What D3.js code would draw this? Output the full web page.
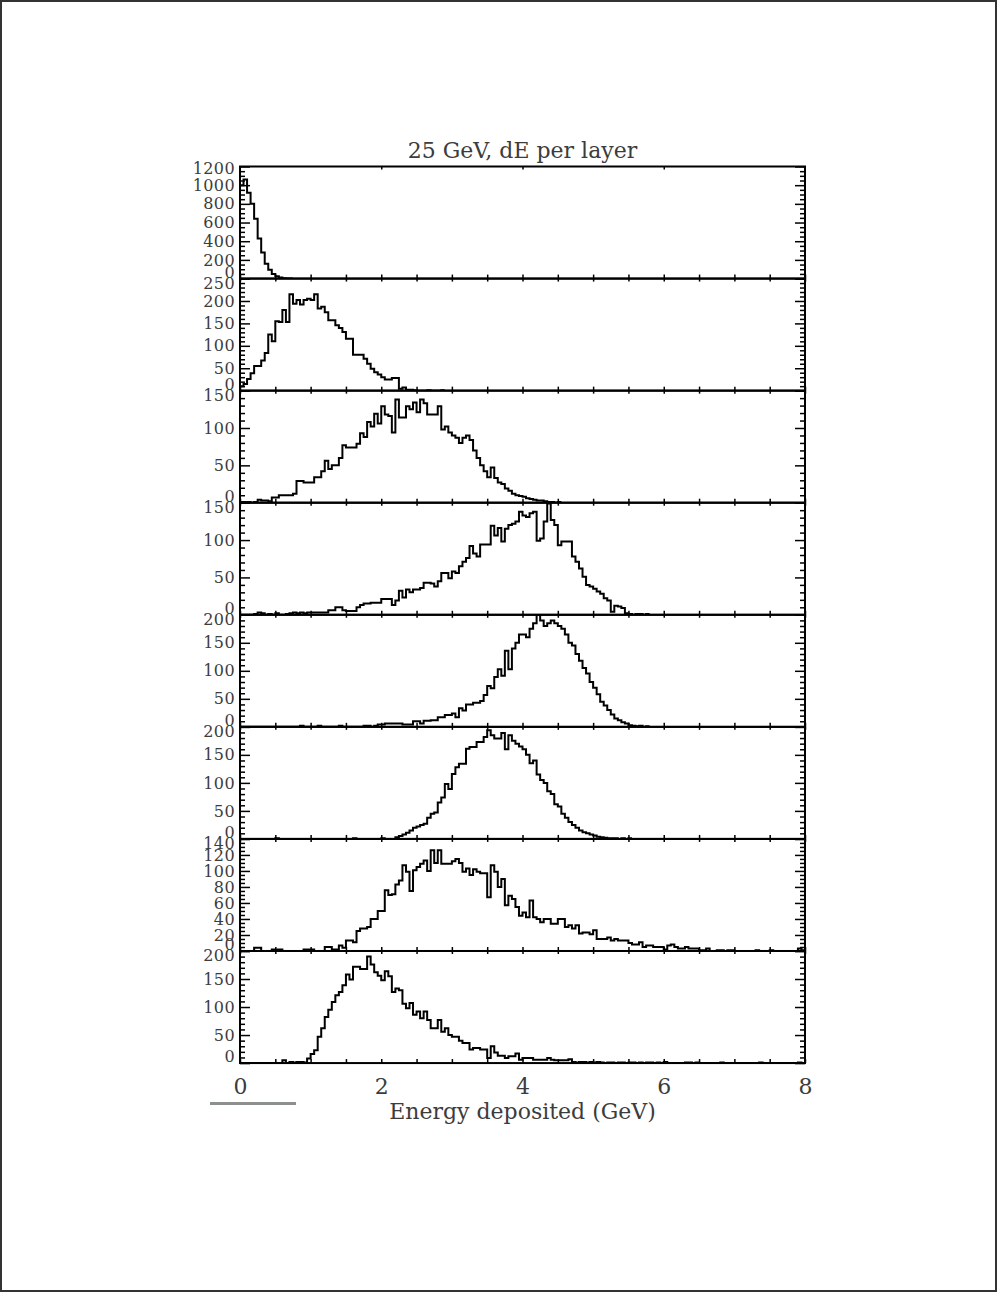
<!DOCTYPE html>
<html>
<head>
<meta charset="utf-8">
<script src="https://cdn.jsdelivr.net/npm/d3@7"></script>
<style>
  body { margin: 0; background: #fff; }
  svg { display: block; }
</style>
</head>
<body>
<div id="chart"></div>
<script>
//bin width in GeV, counts start at 0 GeV
var binWidth = 0.05;

//counts per bin, one array for each layer (top to bottom)
var layer1 = [1000, 1060, 920, 800, 640, 430, 280, 160, 95, 50, 25, 12, 4, 1, 0];

var layer2 = [10, 15, 26, 39, 55, 55, 67, 84, 125, 110, 155, 153, 180, 153, 215, 194, 202, 192, 202, 205,
    202, 215, 183, 187, 175, 157, 157, 146, 140, 131, 116, 116, 80, 80, 80, 71, 60, 49, 41, 36,
    30, 25, 25, 28, 28, 4, 7, 2, 2, 1, 0, 0, 0, 1, 0, 0, 0, 1];

var layer3 = [1, 1, 1, 0, 1, 4, 3, 3, 2, 7, 7, 10, 10, 10, 10, 12, 29, 29, 27, 27,
    27, 34, 34, 42, 56, 45, 50, 50, 60, 77, 74, 74, 74, 79, 93, 88, 108, 102, 119, 106,
    129, 118, 116, 94, 138, 114, 114, 129, 125, 134, 121, 138, 133, 118, 118, 118, 129, 98, 102, 94,
    90, 87, 80, 87, 90, 84, 70, 60, 50, 42, 34, 47, 33, 27, 25, 19, 16, 12, 10, 9,
    8, 6, 5, 4, 3, 3, 2, 1, 1, 0, 1];

var layer4 = [0, 0, 0, 0, 1, 3, 2, 0, 1, 0, 2, 0, 0, 1, 2, 3, 2, 3, 2, 3,
    3, 3, 3, 3, 3, 6, 6, 10, 10, 6, 5, 5, 5, 10, 13, 15, 15, 16, 16, 16,
    21, 21, 21, 13, 19, 32, 23, 34, 30, 34, 34, 36, 43, 43, 42, 38, 45, 56, 56, 49,
    58, 56, 65, 71, 76, 92, 82, 78, 94, 94, 94, 119, 106, 116, 98, 115, 120, 122, 125, 138,
    133, 131, 136, 138, 99, 102, 125, 149, 127, 120, 93, 98, 98, 98, 78, 71, 62, 51, 40, 38,
    35, 31, 28, 22, 19, 4, 12, 11, 9, 2, 1, 0, 1, 1, 0, 1];

var layer5 = [0, 0, 0, 0, 0, 0, 0, 0, 0, 0, 0, 0, 0, 0, 0, 0, 0, 2, 0, 0,
    0, 0, 2, 0, 0, 0, 0, 0, 2, 0, 0, 0, 0, 0, 0, 2, 2, 0, 2, 4,
    4, 6, 6, 6, 6, 6, 4, 4, 4, 10, 10, 6, 11, 11, 12, 12, 17, 17, 21, 21,
    24, 17, 33, 29, 40, 40, 43, 43, 46, 57, 73, 69, 89, 103, 91, 136, 103, 140, 150, 165,
    165, 160, 175, 185, 200, 190, 180, 185, 190, 185, 180, 175, 165, 150, 145, 130, 118, 105, 95, 80,
    70, 58, 45, 38, 30, 22, 15, 12, 8, 6, 3, 2, 1, 2, 0, 1];

var layer6 = [0, 0, 0, 0, 0, 0, 0, 0, 0, 0, 1, 0, 0, 0, 0, 0, 0, 0, 0, 0,
    0, 0, 0, 0, 0, 0, 0, 0, 0, 0, 0, 0, 1, 0, 0, 0, 0, 0, 0, 0,
    1, 0, 0, 0, 3, 5, 8, 11, 15, 20, 22, 25, 27, 38, 45, 47, 65, 74, 98, 89,
    116, 128, 134, 134, 161, 164, 164, 173, 173, 182, 194, 185, 179, 179, 189, 160, 185, 175, 170, 165,
    160, 150, 135, 140, 115, 105, 100, 85, 80, 62, 58, 45, 38, 30, 25, 20, 15, 12, 10, 8,
    6, 4, 3, 2, 1, 1, 1, 0, 1, 0, 1];

var layer7 = [0, 0, 0, 0, 4, 4, 0, 0, 0, 2, 2, 2, 0, 0, 0, 0, 0, 0, 2, 2,
    2, 0, 0, 0, 5, 5, 2, 2, 7, 4, 13, 13, 11, 25, 28, 28, 30, 40, 40, 50,
    50, 76, 70, 71, 83, 88, 107, 99, 75, 101, 105, 109, 113, 100, 126, 110, 126, 109, 109, 109,
    112, 115, 110, 99, 103, 95, 102, 99, 97, 97, 67, 107, 99, 80, 90, 57, 69, 65, 55, 44,
    48, 42, 63, 42, 40, 36, 40, 40, 34, 34, 40, 40, 30, 32, 28, 32, 22, 23, 23, 21,
    26, 15, 15, 15, 17, 13, 15, 13, 13, 13, 10, 8, 8, 11, 5, 7, 7, 5, 5, 5,
    2, 7, 8, 5, 3, 3, 5, 3, 3, 3, 1, 1, 3, 0, 0, 1, 1, 0, 1, 1,
    0, 0, 0, 0, 0, 0, 1, 0, 0, 0, 1, 0, 0, 0, 0, 0, 0, 0, 3, 1];

var layer8 = [0, 0, 0, 0, 0, 0, 0, 0, 0, 0, 0, 0, 5, 0, 2, 1, 2, 2, 1, 8,
    16, 23, 47, 62, 82, 95, 109, 121, 127, 139, 158, 149, 172, 172, 168, 168, 190, 176, 162, 156,
    148, 164, 155, 127, 133, 130, 106, 98, 107, 86, 92, 80, 92, 77, 62, 62, 77, 56, 62, 50,
    47, 47, 40, 36, 36, 24, 27, 27, 24, 24, 9, 30, 19, 13, 13, 9, 12, 12, 17, 6,
    9, 9, 9, 6, 6, 6, 6, 9, 6, 5, 5, 5, 5, 7, 2, 1, 2, 2, 1, 2,
    1, 2, 1, 0, 1, 1, 0, 1, 1, 0, 1, 1, 0, 1, 0, 1, 1, 0, 1, 0,
    2, 0, 0, 0, 0, 0, 1, 1, 0, 1, 0, 0, 0, 0, 0, 0, 1, 0, 0, 0,
    0, 0, 0, 0, 0, 0, 0, 1, 0, 0, 0, 0, 0, 0, 0, 0, 0, 0, 1, 0];

var layers = [layer1, layer2, layer3, layer4, layer5, layer6, layer7, layer8];

//y axis range and tick steps per panel
var yMaxes = [1200, 250, 150, 150, 200, 200, 140, 200];
var yMajorSteps = [200, 50, 50, 50, 50, 50, 20, 50];
var yMinorSteps = [50, 10, 10, 10, 10, 10, 5, 10];

//x axis
var xDomain = [0, 8];
var xMajorTicks = [0, 2, 4, 6, 8];

var titleText = "25 GeV, dE per layer";
var xTitleText = "Energy deposited (GeV)";

//svg dimensions
var svgWidth = 997;
var svgHeight = 1292;

var plotLeft = 240;
var plotRight = 805;
var plotTop = 166.5;
var panelHeight = 112.07;

var serif = "'DejaVu Serif', 'Liberation Serif', serif";
var textColor = "#3c3c3c";

var svg = d3.select("#chart").append("svg")
    .attr("width", svgWidth)
    .attr("height", svgHeight);

//page frame
svg.append("rect")
    .attr("x", 1)
    .attr("y", 1)
    .attr("width", svgWidth - 2)
    .attr("height", svgHeight - 2)
    .attr("fill", "none")
    .attr("stroke", "#333")
    .attr("stroke-width", 2);

var xScale = d3.scaleLinear()
    .domain(xDomain)
    .range([plotLeft, plotRight]);

var xMinorTicks = d3.range(0, 8.001, 0.5);

function stepValues(max, step) {
    return d3.range(0, max + step / 2, step);
}

layers.forEach(function (counts, i) {
    var top = plotTop + i * panelHeight;
    var bottom = top + panelHeight;
    var yMax = yMaxes[i];

    var yScale = d3.scaleLinear()
        .domain([0, yMax])
        .range([bottom, top]);

    var panel = svg.append("g").attr("class", "panel");

    //clip the histogram to its panel
    var clipId = "clip" + i;
    svg.append("clipPath")
        .attr("id", clipId)
        .append("rect")
        .attr("x", plotLeft)
        .attr("y", top)
        .attr("width", plotRight - plotLeft)
        .attr("height", panelHeight);

    var points = counts.map(function (c, k) {
        return [k * binWidth, c];
    });
    points.push([counts.length * binWidth, counts[counts.length - 1]]);

    var line = d3.line()
        .x(d => xScale(d[0]))
        .y(d => yScale(d[1]))
        .curve(d3.curveStepAfter);

    panel.append("path")
        .datum(points)
        .attr("clip-path", "url(#" + clipId + ")")
        .attr("fill", "none")
        .attr("stroke", "#000")
        .attr("stroke-width", 2)
        .attr("d", line);

    var majorVals = stepValues(yMax, yMajorSteps[i]);
    var minorVals = stepValues(yMax, yMinorSteps[i]).filter(v => majorVals.indexOf(v) < 0);

    //left ticks pointing in
    panel.append("g")
        .attr("transform", `translate(${plotLeft}, 0)`)
        .call(d3.axisRight(yScale).tickValues(minorVals).tickSize(5).tickFormat(""));
    panel.append("g")
        .attr("transform", `translate(${plotLeft}, 0)`)
        .call(d3.axisRight(yScale).tickValues(majorVals).tickSize(10).tickFormat(""));

    //right ticks pointing in
    panel.append("g")
        .attr("transform", `translate(${plotRight}, 0)`)
        .call(d3.axisLeft(yScale).tickValues(minorVals).tickSize(5).tickFormat(""));
    panel.append("g")
        .attr("transform", `translate(${plotRight}, 0)`)
        .call(d3.axisLeft(yScale).tickValues(majorVals).tickSize(10).tickFormat(""));

    //bottom ticks pointing up
    panel.append("g")
        .attr("transform", `translate(0, ${bottom})`)
        .call(d3.axisTop(xScale).tickValues(xMinorTicks).tickSize(4).tickFormat(""));

    //top ticks pointing down
    panel.append("g")
        .attr("transform", `translate(0, ${top})`)
        .call(d3.axisBottom(xScale).tickValues(i === 0 ? [2, 4, 6] : xMinorTicks).tickSize(3).tickFormat(""));

    //y labels
    var labels = panel.append("g")
        .attr("transform", `translate(${plotLeft}, 0)`)
        .call(d3.axisLeft(yScale).tickValues(majorVals).tickSize(0).tickPadding(5).tickFormat(d3.format("d")));

    labels.selectAll("text")
        .attr("font-family", serif)
        .attr("font-size", 16)
        .attr("letter-spacing", 0.4)
        .attr("fill", textColor)
        .attr("dy", function (d) {
            if (d === 0) return "-0.08em";
            if (d === yMax) return i === 0 ? "0.42em" : "0.62em";
            return "0.32em";
        });

    //frame
    panel.append("rect")
        .attr("x", plotLeft)
        .attr("y", top)
        .attr("width", plotRight - plotLeft)
        .attr("height", panelHeight)
        .attr("fill", "none")
        .attr("stroke", "#000")
        .attr("stroke-width", 2);
});

svg.selectAll(".domain").remove();
svg.selectAll(".tick line")
    .attr("stroke", "#000")
    .attr("stroke-width", 1.5);

//x tick labels under the last panel
var plotBottom = plotTop + 8 * panelHeight;

var xLabels = svg.append("g")
    .attr("transform", `translate(0, ${plotBottom})`)
    .call(d3.axisBottom(xScale).tickValues(xMajorTicks).tickSize(0).tickPadding(15).tickFormat(d3.format("d")));

xLabels.select(".domain").remove();
xLabels.selectAll("text")
    .attr("font-family", serif)
    .attr("font-size", 22)
    .attr("fill", textColor);

//title
svg.append("text")
    .attr("x", (plotLeft + plotRight) / 2)
    .attr("y", 158)
    .attr("text-anchor", "middle")
    .attr("font-family", serif)
    .attr("font-size", 22)
    .attr("fill", textColor)
    .text(titleText);

//x axis title
svg.append("text")
    .attr("x", (plotLeft + plotRight) / 2)
    .attr("y", 1119)
    .attr("text-anchor", "middle")
    .attr("font-family", serif)
    .attr("font-size", 22)
    .attr("fill", textColor)
    .text(xTitleText);

//grey bar under the 0 label
svg.append("line")
    .attr("x1", 210)
    .attr("x2", 296)
    .attr("y1", 1103.5)
    .attr("y2", 1103.5)
    .attr("stroke", "#8d918d")
    .attr("stroke-width", 3);
</script>
</body>
</html>
